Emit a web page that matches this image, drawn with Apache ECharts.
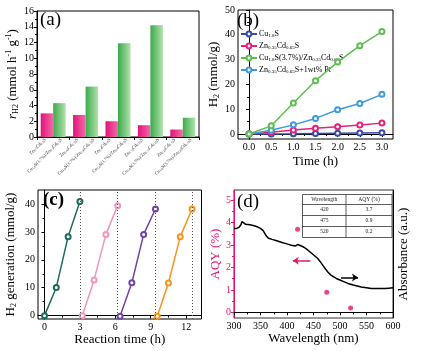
<!DOCTYPE html>
<html><head><meta charset="utf-8">
<script src="https://cdn.jsdelivr.net/npm/echarts@6/dist/echarts.min.js"></script>
<style>html,body{margin:0;padding:0;background:#fff}#c{width:422px;height:351px}</style>
</head><body><div id="c"></div>
<script>
// ---------- data: panel (a) ----------
const aGroups = ['G1', 'G2', 'G3', 'G4', 'G5'];
const aBaseNames = ['Zn0.5Cd0.5S', 'Zn0.45Cd0.55S', 'Zn0.4Cd0.6S', 'Zn0.35Cd0.65S', 'Zn0.25Cd0.75S'];
const aCompNames = ['Cu1.8S(3.7%)/Zn0.5Cd0.5S', 'Cu1.8S(3.7%)/Zn0.45Cd0.55S', 'Cu1.8S(3.7%)/Zn0.4Cd0.6S', 'Cu1.8S(3.7%)/Zn0.35Cd0.65S', 'Cu1.8S(3.7%)/Zn0.25Cd0.75S'];
const aRateBase = [3.0, 2.8, 2.0, 1.5, 0.95];
const aRateComp = [4.3, 6.4, 11.9, 14.2, 2.45];
// ---------- data: panel (b) ----------
const bTime = [0, 0.5, 1.0, 1.5, 2.0, 2.5, 3.0];
const bNames = ['Cu1.8S', 'Zn0.35Cd0.65S', 'Cu1.8S(3.7%)/Zn0.35Cd0.65S', 'Zn0.35Cd0.65S+1wt% Pt'];
const bCu = [0, 0.05, 0.1, 0.2, 0.3, 0.4, 0.5];
const bZCS = [0, 0.7, 1.6, 2.3, 2.9, 3.6, 4.4];
const bComp = [0, 3.3, 12.5, 21.5, 29.0, 35.6, 41.3];
const bPt = [0, 1.5, 3.7, 6.3, 9.8, 12.3, 16.0];
const bXTicks = [0, 0.5, 1.0, 1.5, 2.0, 2.5, 3.0];
const bXMinor = [0.25, 0.75, 1.25, 1.75, 2.25, 2.75];
const bYTicks = [0, 10, 20, 30, 40, 50];
const bYMinor = [5, 15, 25, 35, 45];
// ---------- data: panel (c) ----------
const cTime1 = [0, 1, 2, 3];
const cH2_1 = [0, 10.1, 28.3, 40.9];
const cTime2 = [3.2, 4.2, 5.2, 6.2];
const cH2_2 = [0, 12.8, 29.1, 39.4];
const cTime3 = [6.4, 7.4, 8.4, 9.4];
const cH2_3 = [-0.2, 11.8, 29.1, 38.2];
const cTime4 = [9.55, 10.5, 11.5, 12.5];
const cH2_4 = [-0.2, 11.7, 28.3, 38.2];
const cCycleEnds = [3, 6.2, 9.4, 12.5];
const cXTicks = [0, 3, 6, 9, 12];
const cXMinor = [1.5, 4.5, 7.5, 10.5];
const cYTicks = [0, 10, 20, 30, 40];
const cYMinor = [5, 15, 25, 35];
// ---------- data: panel (d) ----------
const dWl = [420, 475, 520];
const dAQY = [3.7, 0.9, 0.2];
const dAbsWl = [300, 305, 310, 313, 315, 318, 322, 330, 338, 345, 350, 355, 358, 361, 365, 372, 382, 392, 400, 408, 416, 420, 425, 432, 439, 447, 452, 458, 463, 468, 473, 477, 483, 488, 493, 500, 507, 515, 525, 540, 550, 559, 570, 585, 592, 600];
const dAbs = [3.74, 3.74, 3.8, 3.9, 4.04, 4.0, 3.92, 3.9, 3.86, 3.8, 3.74, 3.64, 3.56, 3.4, 3.3, 3.25, 3.18, 3.1, 3.05, 2.99, 2.96, 3.02, 2.98, 2.9, 2.78, 2.62, 2.52, 2.4, 2.25, 2.08, 1.92, 1.8, 1.66, 1.58, 1.51, 1.44, 1.37, 1.29, 1.22, 1.13, 1.1, 1.06, 1.06, 1.06, 1.08, 1.1];
const dYTicks = [0, 1, 2, 3, 4, 5];
const dYMinor = [0.5, 1.5, 2.5, 3.5, 4.5];
const dArrowAQY = [[444, 2.3], [411, 2.3]];
const dArrowAbs = [[502, 1.55], [534, 1.55]];

// ---------- helpers ----------
const FONT = 'Liberation Serif';
function subify(s) {
  return s.replace(/([A-Za-z])(\d+(?:\.\d+)?)/g, '$1{s|$2}');
}
const zip = (xs, ys) => xs.map((x, i) => [x, ys[i]]);
const PINK = '#e5156f';
const axisBase = (extra) => Object.assign({
  axisLine: { show: true, lineStyle: { color: '#000', width: 1 } },
  axisTick: { show: true, length: 3, inside: false, lineStyle: { color: '#000' } },
  axisLabel: { color: '#000', fontSize: 10, fontFamily: FONT, margin: 3 },
  splitLine: { show: false },
  nameTextStyle: { color: '#000', fontSize: 13, fontFamily: FONT },
}, extra);
const minorAxis = (extra, vals, color) => Object.assign({
  type: 'value',
  axisLine: { show: false },
  axisTick: { show: true, length: 2, customValues: vals, lineStyle: { color: color || '#000' } },
  axisLabel: { show: false },
  splitLine: { show: false },
}, extra);
const nameRich = {
  n: { fontSize: 13, fontFamily: FONT, lineHeight: 15 },
  i: { fontSize: 13, fontFamily: FONT, fontStyle: 'italic', lineHeight: 15 },
  s: { fontSize: 8, fontFamily: FONT, verticalAlign: 'bottom', lineHeight: 8 },
  p: { fontSize: 8, fontFamily: FONT, verticalAlign: 'top', lineHeight: 8 },
};
const gridBox = { show: true, borderColor: '#000', borderWidth: 1, backgroundColor: 'rgba(0,0,0,0)', outerBoundsMode: 'none', containLabel: false };

const chart = echarts.init(document.getElementById('c'));

const aLabels = [];
aBaseNames.forEach((b, i) => { aLabels.push(b); aLabels.push(aCompNames[i]); });

const bColors = ['#3a4aa5', '#e8207a', '#5cbf4e', '#3d9be0'];
const bData = [bCu, bZCS, bComp, bPt];
const cColors = ['#1c6b5c', '#f394c0', '#7044a8', '#f7941d'];
const cTimes = [cTime1, cTime2, cTime3, cTime4];
const cH2 = [cH2_1, cH2_2, cH2_3, cH2_4];

const option = {
  animation: false,
  textStyle: { fontFamily: FONT },
  grid: [
    Object.assign({ left: 37, top: 11, width: 162, height: 126 }, gridBox),
    Object.assign({ left: 238, top: 10, width: 155, height: 129 }, gridBox),
    Object.assign({ left: 38, top: 190, width: 163.5, height: 129 }, gridBox),
    Object.assign({ left: 234, top: 190, width: 159, height: 128 }, gridBox, { borderColor: '#333' }),
  ],
  xAxis: [
    axisBase({ gridIndex: 0, type: 'category', data: aGroups, position: 'bottom',
      axisTick: { show: true, length: 3, lineStyle: { color: '#000' } }, axisLabel: { show: false } }),
    { gridIndex: 0, type: 'category', data: aLabels, position: 'bottom', axisLine: { show: false }, axisTick: { show: false },
      splitLine: { show: false },
      axisLabel: { interval: 0, rotate: 45, fontSize: 4.6, fontFamily: FONT, color: '#333', margin: 2,
        formatter: v => subify(v), rich: { s: { fontSize: 3.2, fontFamily: FONT, verticalAlign: 'bottom', lineHeight: 3 } } } },
    axisBase({ gridIndex: 1, type: 'value', min: -0.25, max: 3.25, position: 'bottom',
      axisTick: { show: true, length: 3, customValues: bXTicks, lineStyle: { color: '#000' } },
      axisLabel: { color: '#000', fontSize: 10, fontFamily: FONT, margin: 3, customValues: bXTicks, formatter: v => v.toFixed(1) },
      name: 'Time (h)', nameLocation: 'middle', nameGap: 16 }),
    minorAxis({ gridIndex: 1, min: -0.25, max: 3.25, position: 'bottom' }, bXMinor),
    axisBase({ gridIndex: 2, type: 'value', min: -0.55, max: 13.3, position: 'bottom',
      axisTick: { show: true, length: 3, customValues: cXTicks, lineStyle: { color: '#000' } },
      axisLabel: { color: '#000', fontSize: 10, fontFamily: FONT, margin: 3, customValues: cXTicks },
      name: 'Reaction time (h)', nameLocation: 'middle', nameGap: 13 }),
    minorAxis({ gridIndex: 2, min: -0.55, max: 13.3, position: 'bottom' }, cXMinor),
    axisBase({ gridIndex: 3, type: 'value', min: 300, max: 600, interval: 50, position: 'bottom',
      minorTick: { show: true, splitNumber: 2, length: 2, lineStyle: { color: '#000' } },
      name: 'Wavelength (nm)', nameLocation: 'middle', nameGap: 13 }),
  ],
  yAxis: [
    axisBase({ gridIndex: 0, type: 'value', min: 0, max: 16, interval: 2, position: 'left',
      minorTick: { show: true, splitNumber: 2, length: 2, lineStyle: { color: '#000' } },
      name: '{i|r}{s|H2}{n| (mmol h}{p|-1}{n| g}{p|-1}{n|)}', nameLocation: 'middle', nameGap: 14, nameRotate: 90,
      nameTextStyle: { rich: nameRich } }),
    axisBase({ gridIndex: 1, type: 'value', min: -2, max: 50, position: 'left',
      axisTick: { show: true, length: 3, customValues: bYTicks, lineStyle: { color: '#000' } },
      axisLabel: { color: '#000', fontSize: 10, fontFamily: FONT, margin: 3, customValues: bYTicks },
      name: '{n|H}{s|2}{n| (mmol/g)}', nameLocation: 'middle', nameGap: 14, nameRotate: 90,
      nameTextStyle: { rich: nameRich } }),
    minorAxis({ gridIndex: 1, min: -2, max: 50, position: 'left' }, bYMinor),
    axisBase({ gridIndex: 2, type: 'value', min: -1.2, max: 45, position: 'left',
      axisTick: { show: true, length: 3, customValues: cYTicks, lineStyle: { color: '#000' } },
      axisLabel: { color: '#000', fontSize: 10, fontFamily: FONT, margin: 3, customValues: cYTicks },
      name: '{n|H}{s|2}{n| generation (mmol/g)}', nameLocation: 'middle', nameGap: 20, nameRotate: 90,
      nameTextStyle: { rich: nameRich } }),
    minorAxis({ gridIndex: 2, min: -1.2, max: 45, position: 'left' }, cYMinor),
    axisBase({ gridIndex: 3, type: 'value', min: -0.25, max: 5.45, position: 'left',
      axisLine: { show: true, lineStyle: { color: PINK, width: 1 } },
      axisTick: { show: true, length: 3, customValues: dYTicks, lineStyle: { color: PINK } },
      axisLabel: { color: PINK, fontSize: 10, fontFamily: FONT, margin: 3, customValues: dYTicks },
      name: 'AQY (%)', nameLocation: 'middle', nameGap: 12, nameRotate: 90,
      nameTextStyle: { color: PINK, fontSize: 13, fontFamily: FONT } }),
    axisBase({ gridIndex: 3, type: 'value', min: -0.25, max: 5.45, position: 'right',
      axisTick: { show: false }, axisLabel: { show: false },
      name: 'Absorbance (a.u.)', nameLocation: 'middle', nameGap: 4, nameRotate: 90,
      nameTextStyle: { color: '#000', fontSize: 13, fontFamily: FONT } }),
    minorAxis({ gridIndex: 3, min: -0.25, max: 5.45, position: 'left' }, dYMinor, PINK),
  ],
  legend: {
    left: 240, top: 30, orient: 'vertical', padding: 0, itemGap: 4, itemWidth: 16, itemHeight: 6,
    data: bNames,
    formatter: n => subify(n),
    textStyle: { fontSize: 8, fontFamily: FONT, color: '#000', padding: [0, 0, 0, -3],
      rich: { s: { fontSize: 5, fontFamily: FONT, verticalAlign: 'bottom', lineHeight: 5 } } },
  },
  series: [
    { type: 'bar', xAxisIndex: 0, yAxisIndex: 0, data: aRateBase, barWidth: 12.5, barGap: '0%',
      itemStyle: { color: new echarts.graphic.LinearGradient(0, 0, 1, 0, [{ offset: 0, color: '#e3127a' }, { offset: 1, color: '#f26aa8' }]) } },
    { type: 'bar', xAxisIndex: 0, yAxisIndex: 0, data: aRateComp, barWidth: 12.5, barGap: '0%',
      itemStyle: { color: new echarts.graphic.LinearGradient(0, 0, 1, 0, [{ offset: 0, color: '#3aab4a' }, { offset: 1, color: '#b3e1ae' }]) } },
  ].concat(bNames.map((n, k) => ({
    type: 'line', name: n, xAxisIndex: 2, yAxisIndex: 1, data: zip(bTime, bData[k]),
    symbol: 'emptyCircle', symbolSize: 5, z: k === 2 ? 5 : 3,
    lineStyle: { color: bColors[k], width: 1.5 }, itemStyle: { color: bColors[k], borderWidth: 1.3 },
  }))).concat(cTimes.map((t, k) => ({
    type: 'line', xAxisIndex: 4, yAxisIndex: 3, data: zip(t, cH2[k]),
    symbol: 'emptyCircle', symbolSize: 5,
    lineStyle: { color: cColors[k], width: 1.5 }, itemStyle: { color: cColors[k], borderWidth: 1.5 },
    markLine: k === 0 ? { silent: true, symbol: 'none', label: { show: false },
      lineStyle: { color: '#555', type: [1, 2], width: 1 },
      data: cCycleEnds.map(x => ({ xAxis: x })) } : undefined,
  }))).concat([
    { type: 'line', xAxisIndex: 6, yAxisIndex: 6, data: zip(dAbsWl, dAbs), symbol: 'none',
      lineStyle: { color: '#000', width: 1.5 },
      markLine: { silent: true, symbol: ['none', 'arrow'], symbolSize: [6, 6], label: { show: false },
        lineStyle: { color: '#000', width: 1.5, type: 'solid' },
        data: [[{ coord: dArrowAbs[0] }, { coord: dArrowAbs[1] }]] } },
    { type: 'scatter', xAxisIndex: 6, yAxisIndex: 5, data: zip(dWl, dAQY), symbolSize: 5,
      itemStyle: { color: PINK },
      markLine: { silent: true, symbol: ['none', 'arrow'], symbolSize: [6, 6], label: { show: false },
        lineStyle: { color: PINK, width: 1.5, type: 'solid' },
        data: [[{ coord: dArrowAQY[0] }, { coord: dArrowAQY[1] }]] } },
  ]),
  graphic: [],
};

// table inset in (d), built from AQY arrays
const tx0 = 302.5, tx1 = 392, tcol = 346, ty0 = 194.5, rowH = [10, 11, 11, 11];
const tbl = [{ type: 'rect', shape: { x: tx0, y: ty0, width: tx1 - tx0, height: 43 }, style: { fill: '#fff', stroke: '#333', lineWidth: 0.8 }, z: 10 },
  { type: 'line', shape: { x1: tcol, y1: ty0, x2: tcol, y2: ty0 + 43 }, style: { stroke: '#333', lineWidth: 0.8 }, z: 11 }];
let yy = ty0;
const rows = [['Wavelength', 'AQY (%)']].concat(dWl.map((w, i) => [String(w), String(dAQY[i])]));
rows.forEach((r, i) => {
  const h = rowH[i];
  if (i > 0) tbl.push({ type: 'line', shape: { x1: tx0, y1: yy, x2: tx1, y2: yy }, style: { stroke: '#333', lineWidth: 0.8 }, z: 11 });
  tbl.push({ type: 'text', x: (tx0 + tcol) / 2, y: yy + h / 2, z: 12, style: { text: r[0], font: '5.5px "Liberation Serif"', fill: '#222', align: 'center', verticalAlign: 'middle' } });
  tbl.push({ type: 'text', x: (tcol + tx1) / 2, y: yy + h / 2, z: 12, style: { text: r[1], font: '5.5px "Liberation Serif"', fill: '#222', align: 'center', verticalAlign: 'middle' } });
  yy += h;
});
const panelLabels = [
  { type: 'text', x: 40, y: 11, z: 20, style: { text: '(a)', font: '19px "Liberation Serif"', fill: '#000' } },
  { type: 'text', x: 237, y: 12, z: 20, style: { text: '(b)', font: '19px "Liberation Serif"', fill: '#000' } },
  { type: 'text', x: 43, y: 191, z: 20, style: { text: '(c)', font: 'bold 19px "Liberation Serif"', fill: '#000' } },
  { type: 'text', x: 237, y: 193, z: 20, style: { text: '(d)', font: '19px "Liberation Serif"', fill: '#000' } },
];
option.graphic = tbl.concat(panelLabels);
chart.setOption(option);
</script></body></html>
